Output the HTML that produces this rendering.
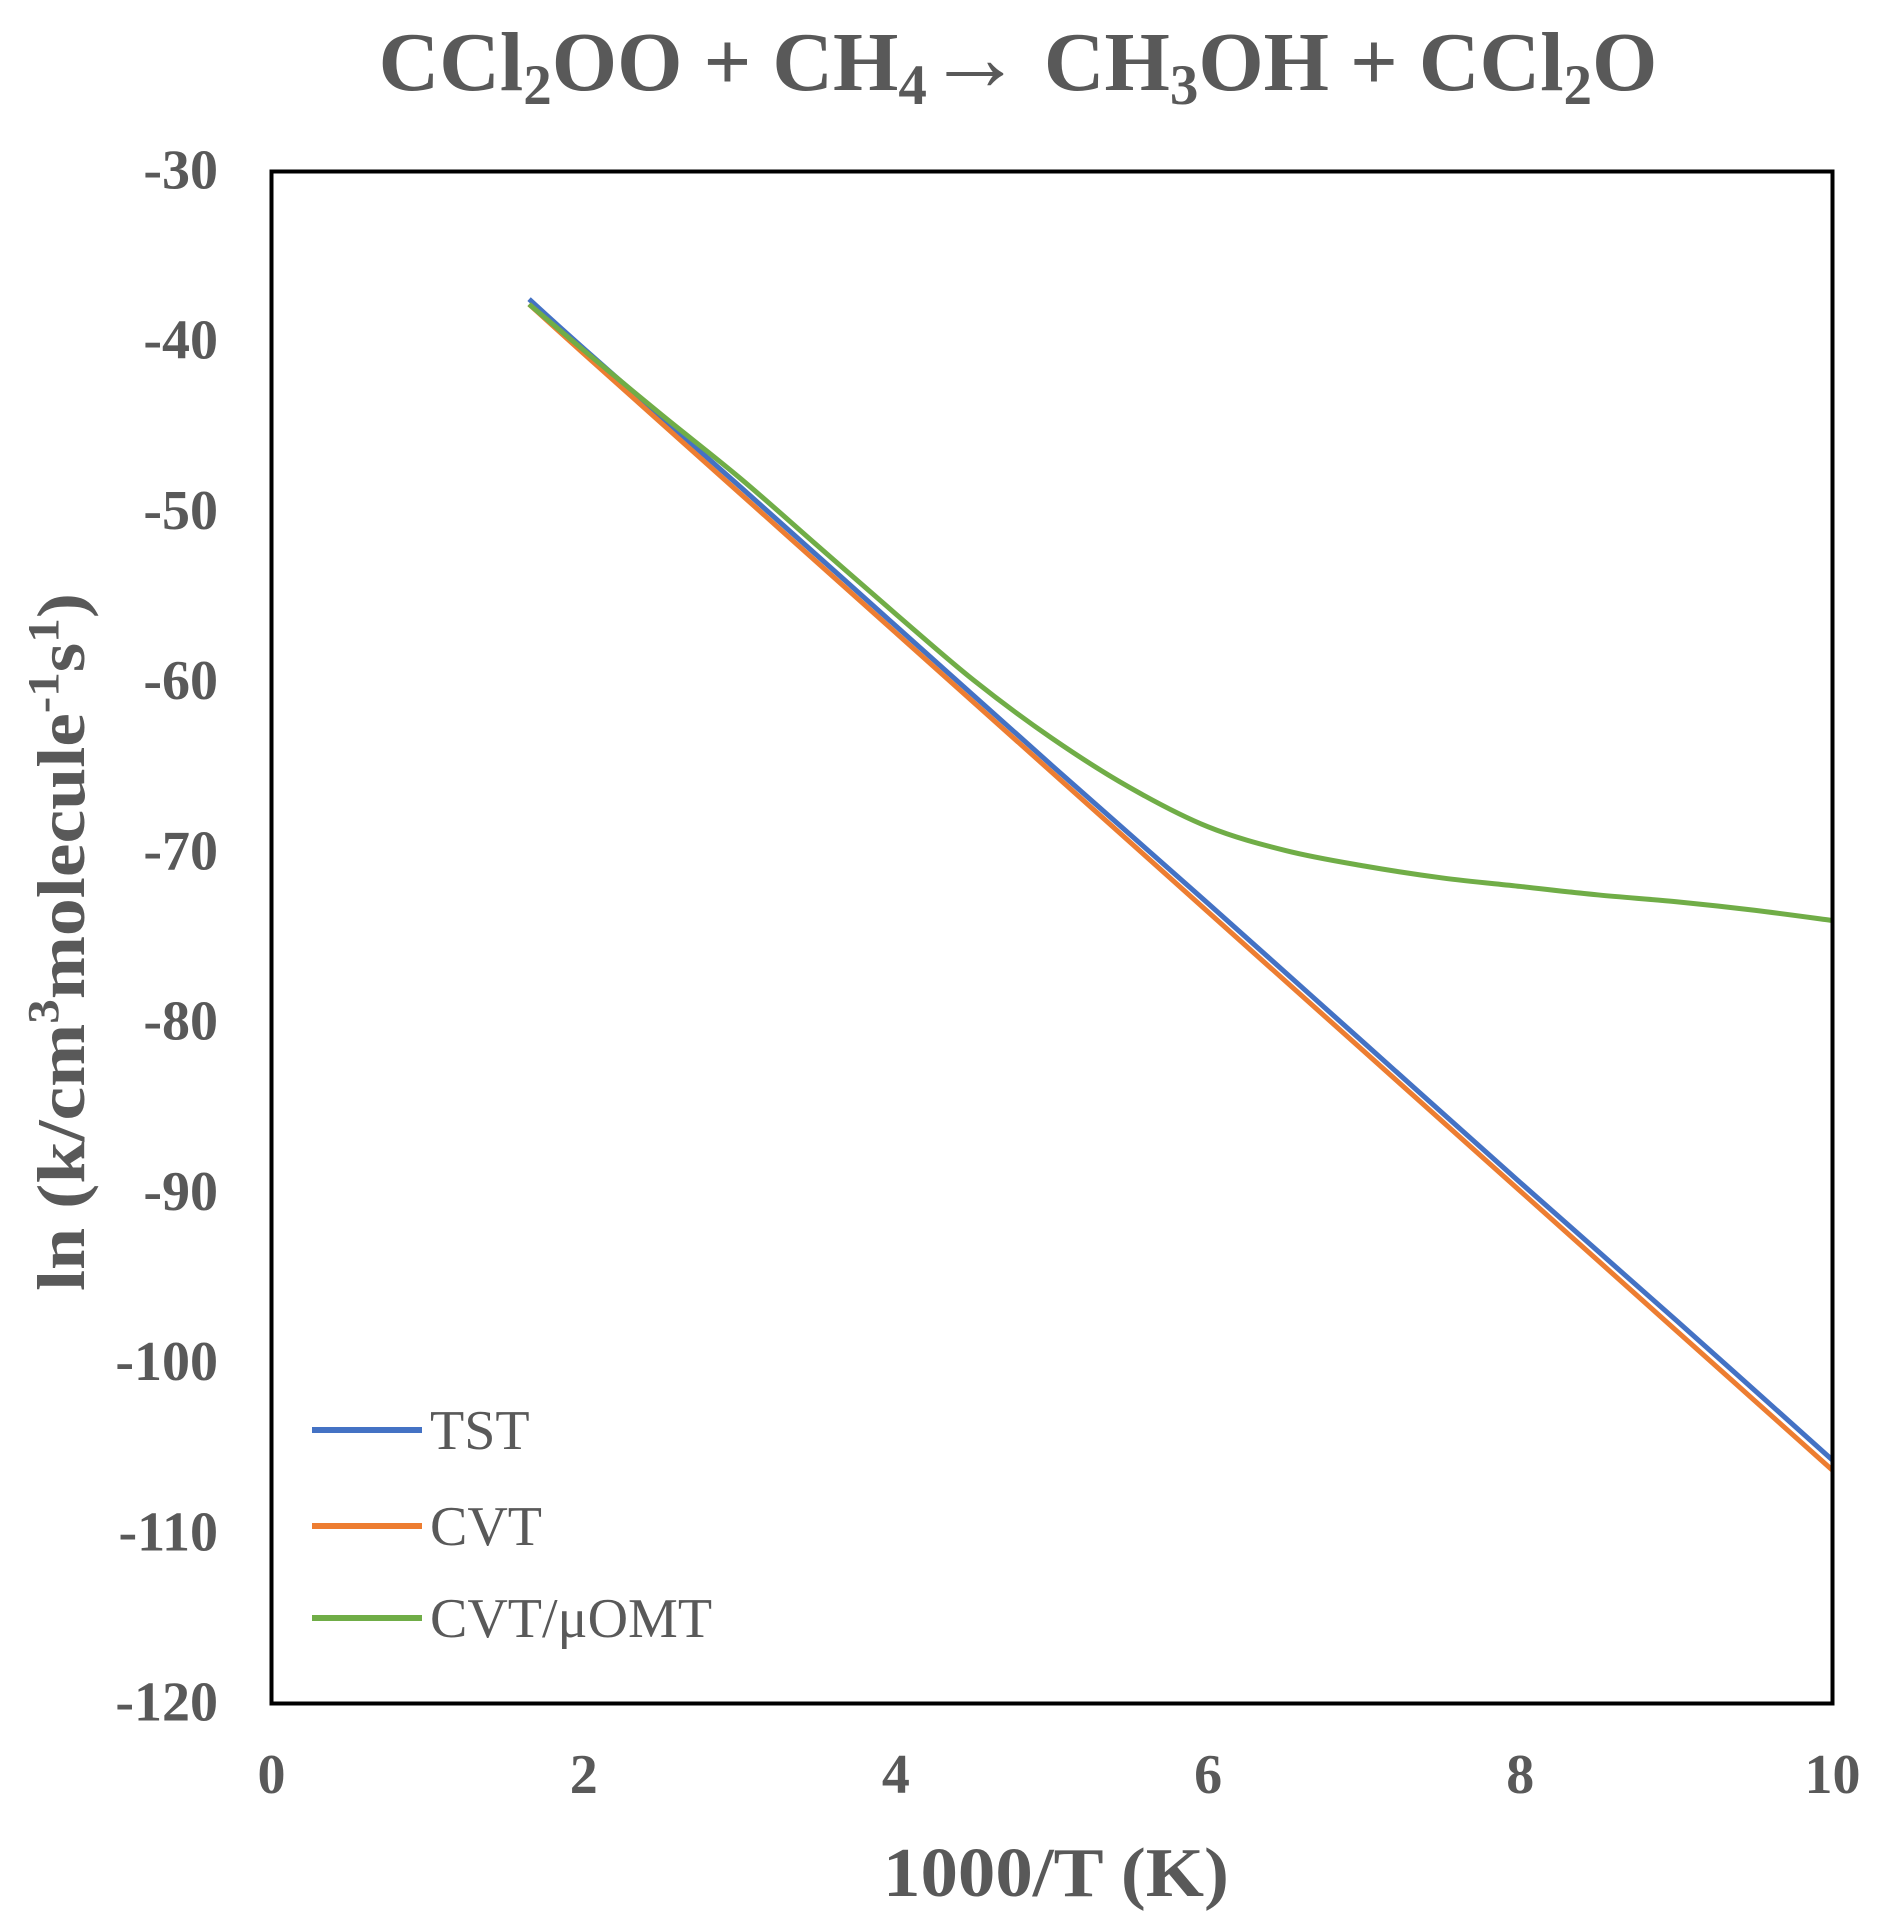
<!DOCTYPE html>
<html><head><meta charset="utf-8"><style>
html,body{margin:0;padding:0;background:#fff;}
svg{display:block;font-family:"Liberation Serif",serif;}
</style></head><body>
<svg id="chart" width="1888" height="1928" viewBox="0 0 1888 1928" xmlns="http://www.w3.org/2000/svg">
<text x="1018" y="90" text-anchor="middle" font-size="84" font-weight="bold" fill="#595959">CCl<tspan font-size="57" dy="14">2</tspan><tspan dy="-14">OO + CH</tspan><tspan font-size="57" dy="14">4</tspan><tspan dy="-14" font-size="96" font-weight="normal">→</tspan><tspan dy="0"> CH</tspan><tspan font-size="57" dy="14">3</tspan><tspan dy="-14">OH + CCl</tspan><tspan font-size="57" dy="14">2</tspan><tspan dy="-14">O</tspan></text>
<g id="yticks"></g>
<g id="xticks"></g>
<g id="series"></g>
<rect x="271.5" y="171.5" width="1561" height="1532" fill="none" stroke="#000" stroke-width="4"/>
<text transform="translate(84,942) rotate(-90)" text-anchor="middle" font-size="68" font-weight="bold" fill="#595959" textLength="698" lengthAdjust="spacingAndGlyphs">ln (k/cm<tspan font-size="44" dy="-26">3</tspan><tspan dy="26">molecule</tspan><tspan font-size="44" dy="-26">-1</tspan><tspan dy="26">s</tspan><tspan font-size="44" dy="-26">1</tspan><tspan dy="26">)</tspan></text>
<text x="1056" y="1896" text-anchor="middle" font-size="70" font-weight="bold" fill="#595959" textLength="346" lengthAdjust="spacingAndGlyphs">1000/T (K)</text>
<g>
<line x1="312" y1="1430" x2="422" y2="1430" stroke="#4472C4" stroke-width="6"/>
<text x="430" y="1449" font-size="56" fill="#595959">TST</text>
<line x1="312" y1="1526" x2="422" y2="1526" stroke="#ED7D31" stroke-width="6"/>
<text x="430" y="1545" font-size="56" fill="#595959">CVT</text>
<line x1="312" y1="1618" x2="422" y2="1618" stroke="#70AD47" stroke-width="6"/>
<text x="430" y="1637" font-size="56" fill="#595959">CVT/μOMT</text>
</g>
</svg>
<script>
const xTicks = [0, 2, 4, 6, 8, 10];
const yTicks = [-30, -40, -50, -60, -70, -80, -90, -100, -110, -120];
const tstX = [1.65, 2, 3, 4, 5, 6, 7, 8, 9, 10];
const tstY = [-37.5, -40.4, -48.5, -56.7, -64.9, -73.0, -81.2, -89.4, -97.5, -105.7];
const cvtX = [1.65, 2, 3, 4, 5, 6, 7, 8, 9, 10];
const cvtY = [-37.8, -40.7, -48.9, -57.1, -65.3, -73.5, -81.7, -89.9, -98.1, -106.3];
const omtX = [1.65, 2, 2.5, 3, 3.5, 4, 4.5, 5, 5.5, 6, 6.5, 7, 7.5, 8, 8.5, 9, 9.5, 10];
const omtY = [-37.8, -40.5, -44.3, -48.0, -52.0, -56.0, -59.9, -63.3, -66.2, -68.5, -69.9, -70.8, -71.5, -72.0, -72.5, -72.9, -73.4, -74.0];

const NS = "http://www.w3.org/2000/svg";
const L = 271.5, R = 1832.5, T = 171.5, B = 1703.5;
function sx(v){ return L + (v - 0) / 10 * (R - L); }
function sy(v){ return T + (-30 - v) / 90 * (B - T); }

const yg = document.getElementById('yticks');
yTicks.forEach(v => {
  const t = document.createElementNS(NS, 'text');
  t.setAttribute('x', 218); t.setAttribute('y', sy(v) + 17);
  t.setAttribute('text-anchor', 'end'); t.setAttribute('font-size', '56');
  t.setAttribute('font-weight', 'bold'); t.setAttribute('fill', '#595959');
  t.textContent = v;
  
  
  yg.appendChild(t);
});
const xg = document.getElementById('xticks');
xTicks.forEach(v => {
  const t = document.createElementNS(NS, 'text');
  t.setAttribute('x', sx(v)); t.setAttribute('y', 1793);
  t.setAttribute('text-anchor', 'middle'); t.setAttribute('font-size', '56');
  t.setAttribute('font-weight', 'bold'); t.setAttribute('fill', '#595959');
  t.textContent = v;
  
  
  xg.appendChild(t);
});

function smoothPath(xs, ys){
  const p = xs.map((x,i)=>[sx(x), sy(ys[i])]);
  let d = 'M' + p[0][0] + ',' + p[0][1];
  for (let i = 0; i < p.length - 1; i++) {
    const p0 = p[i-1] || p[i], p1 = p[i], p2 = p[i+1], p3 = p[i+2] || p2;
    const c1 = [p1[0] + (p2[0]-p0[0])/6, p1[1] + (p2[1]-p0[1])/6];
    const c2 = [p2[0] - (p3[0]-p1[0])/6, p2[1] - (p3[1]-p1[1])/6];
    d += ' C' + c1 + ' ' + c2 + ' ' + p2;
  }
  return d;
}
const sg = document.getElementById('series');
function addLine(xs, ys, color, name){
  const path = document.createElementNS(NS, 'path');
  path.setAttribute('d', smoothPath(xs, ys));
  path.setAttribute('fill', 'none'); path.setAttribute('stroke', color);
  path.setAttribute('stroke-width', '5');
  
  
  sg.appendChild(path);
}
addLine(tstX, tstY, '#4472C4', 'tst-line');
addLine(cvtX, cvtY, '#ED7D31', 'cvt-line');
addLine(omtX, omtY, '#70AD47', 'cvt-uomt-line');
</script>
</body></html>
